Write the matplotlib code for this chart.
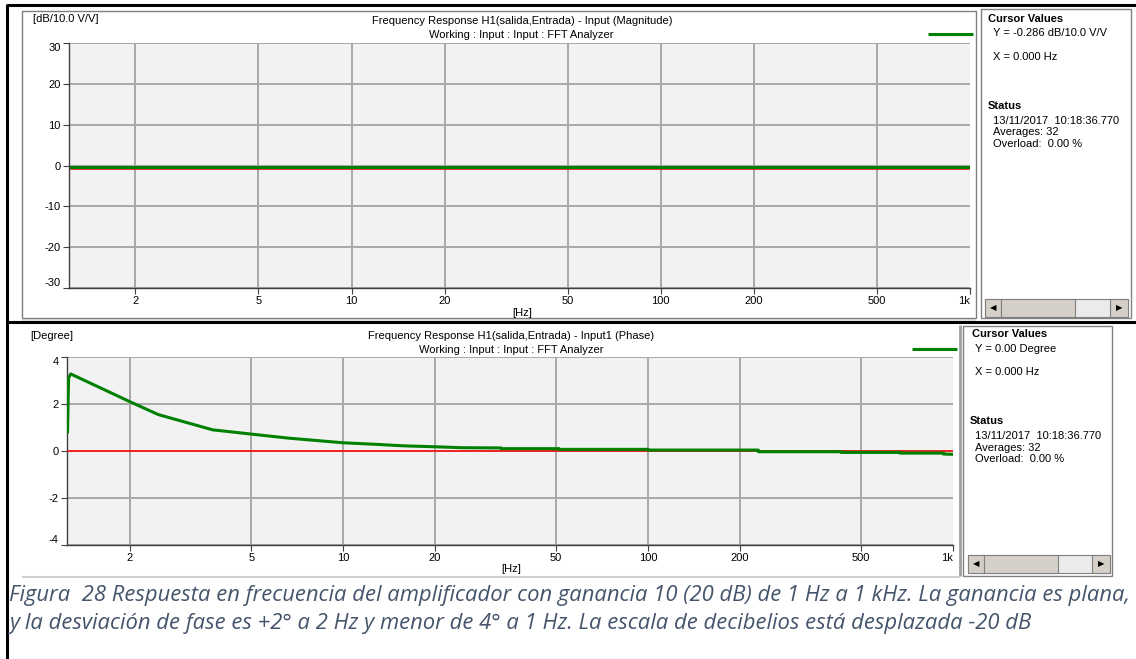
import matplotlib
matplotlib.use("Agg")
import matplotlib.pyplot as plt
from matplotlib.patches import Rectangle
from matplotlib.lines import Line2D

# ------------------------------------------------------------
# Data
# ------------------------------------------------------------

freq_ticks = [2, 5, 10, 20, 50, 100, 200, 500, 1000]
freq_labels = ["2", "5", "10", "20", "50", "100", "200", "500", "1k"]

mag_ticks = [-30, -20, -10, 0, 10, 20, 30]
phase_ticks = [-4, -2, 0, 2, 4]

# magnitude trace (dB/10.0 V/V), flat
mag_freq = [1.22, 2, 5, 10, 20, 50, 100, 200, 500, 1000]
mag_db = [-0.29, -0.29, -0.29, -0.29, -0.29, -0.29, -0.29, -0.29, -0.29, -0.29]
mag_ref_freq = [1.22, 1000]
mag_ref_db = [-0.75, -0.75]

# phase trace (degree)
phase_freq = [1.25, 1.26, 1.28, 2.0, 2.48, 3.74, 5.0, 6.6, 10.0, 13.0, 15.8,
              20.0, 24.5, 33, 33, 51, 51, 100, 100, 230, 230, 430, 430,
              670, 670, 930, 930, 1000]
phase_deg = [0.82, 3.1, 3.28, 2.1, 1.55, 0.9, 0.72, 0.55, 0.35, 0.28, 0.22,
             0.18, 0.14, 0.13, 0.10, 0.10, 0.07, 0.07, 0.04, 0.04, -0.03, -0.03,
             -0.06, -0.06, -0.09, -0.09, -0.13, -0.14]

ref_freq = [1.24, 1000]
ref_deg = [0.0, 0.0]

caption_1 = ("Figura  28 Respuesta en frecuencia del amplificador con ganancia 10 "
             "(20 dB) de 1 Hz a 1 kHz. La ganancia es plana,")
caption_2 = ("y la desviación de fase es +2° a 2 Hz y menor de 4° a 1 Hz. "
             "La escala de decibelios está desplazada -20 dB")

# ------------------------------------------------------------
# Figure helpers (pixel coordinates, origin top-left)
# ------------------------------------------------------------

W, H = 1136, 659
fig = plt.figure(figsize=(W / 100, H / 100), dpi=100)
plt.rcParams["font.family"] = ["Liberation Sans", "DejaVu Sans"]

GREEN = "#008000"
GRID = "#a8a8a8"


def fx(x):
    return x / W


def fy(y):
    return 1 - y / H


def hline(x0, x1, y, color, lw):
    fig.add_artist(Line2D([fx(x0), fx(x1)], [fy(y), fy(y)],
                          transform=fig.transFigure, color=color, lw=lw,
                          solid_capstyle="butt", zorder=2))


def vline(x, y0, y1, color, lw):
    fig.add_artist(Line2D([fx(x), fx(x)], [fy(y0), fy(y1)],
                          transform=fig.transFigure, color=color, lw=lw,
                          solid_capstyle="butt", zorder=2))


def box(x0, y0, x1, y1, fc="none", ec="none", lw=0.8, z=-1):
    fig.add_artist(Rectangle((fx(x0), fy(y1)), fx(x1) - fx(x0), fy(y0) - fy(y1),
                             transform=fig.transFigure, fc=fc, ec=ec, lw=lw,
                             zorder=z))


def text(x, y, s, **kw):
    kw.setdefault("fontsize", 8)
    kw.setdefault("va", "center")
    return fig.text(fx(x), fy(y), s, **kw)


def scrollbar(x0, x1, y0, y1):
    box(x0, y0, x1, y1, fc="#ebebeb", ec="#808080", z=1)
    box(x0, y0, x0 + 16, y1, fc="#d4d0c8", ec="#808080", z=1)
    box(x0 + 16, y0, x0 + 90, y1, fc="#d4d0c8", ec="#808080", z=1)
    box(x1 - 18, y0, x1, y1, fc="#d4d0c8", ec="#808080", z=1)
    mid = (y0 + y1) / 2
    text(x0 + 8, mid, "◀", fontsize=6, ha="center", family="DejaVu Sans")
    text(x1 - 9, mid, "▶", fontsize=6, ha="center", family="DejaVu Sans")


def style_axes(ax, yticks, xmin):
    ax.set_xscale("log")
    ax.set_xlim(xmin, 1000)
    ax.set_ylim(yticks[0], yticks[-1])
    ax.set_facecolor("#f2f2f2")
    ax.set_xticks(freq_ticks, freq_labels)
    ax.minorticks_off()
    ax.set_yticks(yticks, [str(v) for v in yticks])
    ax.grid(True, color=GRID, lw=1.4)
    ax.get_xgridlines()[-1].set_visible(False)
    for s in ["top", "right"]:
        ax.spines[s].set_visible(False)
    for s in ["left", "bottom"]:
        ax.spines[s].set_color("#404040")
        ax.spines[s].set_linewidth(1.0)
    ax.tick_params(direction="out", length=4, width=0.8, color="#404040",
                   labelsize=8, pad=2)
    ylabels = ax.get_yticklabels()
    ylabels[0].set_va("bottom")
    ylabels[-1].set_va("top")
    ax.get_xticklabels()[-1].set_ha("right")
    ax.set_axisbelow(True)


# ------------------------------------------------------------
# Frames
# ------------------------------------------------------------

box(7, 5, 1136, 322, fc="white", z=-2)
box(22, 318, 976, 322, fc="#e6e6e6")
box(22, 11, 976, 318, ec="#808080", lw=1.0)
box(981, 9, 1131, 318, fc="white", ec="#808080", lw=1.0)
box(963, 326, 1112, 576, fc="white", ec="#808080", lw=1.0)
vline(960, 325, 576, "#a0a0a0", 2.0)
hline(22, 960, 577, "#d0d0d0", 1.5)

hline(7, 1136, 5, "black", 2.2)
hline(7, 1136, 322, "black", 2.2)
vline(7, 4, 659, "black", 2.2)

# ------------------------------------------------------------
# Magnitude panel
# ------------------------------------------------------------

ax_mag = fig.add_axes([fx(69), fy(288), fx(970) - fx(69), fy(43) - fy(288)])
style_axes(ax_mag, mag_ticks, 1.22)
ax_mag.plot(mag_ref_freq, mag_ref_db, color="#ff0000", lw=1.1)
ax_mag.plot(mag_freq, mag_db, color=GREEN, lw=2.2)

text(33, 19, "[dB/10.0 V/V]")
text(522, 21, "Frequency Response H1(salida,Entrada) - Input (Magnitude)", ha="center")
text(521, 35, "Working : Input : Input : FFT Analyzer", ha="center")
hline(928, 973, 34, GREEN, 2.2)
text(522, 313, "[Hz]", ha="center")

text(988, 19, "Cursor Values", fontweight="bold")
text(993, 33, "Y = -0.286 dB/10.0 V/V")
text(993, 57, "X = 0.000 Hz")
text(988, 106, "Status", fontweight="bold")
text(993, 121, "13/11/2017  10:18:36.770")
text(993, 132, "Averages: 32")
text(993, 144, "Overload:  0.00 %")
scrollbar(985, 1128, 299, 317)

# ------------------------------------------------------------
# Phase panel
# ------------------------------------------------------------

ax_ph = fig.add_axes([fx(67), fy(545), fx(953) - fx(67), fy(357) - fy(545)])
style_axes(ax_ph, phase_ticks, 1.245)
ax_ph.plot(ref_freq, ref_deg, color="#ff0000", lw=1.1, zorder=3)
ax_ph.plot(phase_freq, phase_deg, color=GREEN, lw=2.2, zorder=4)

text(30, 336, "[Degree]")
text(511, 336, "Frequency Response H1(salida,Entrada) - Input1 (Phase)", ha="center")
text(511, 350, "Working : Input : Input : FFT Analyzer", ha="center")
hline(912, 957, 349, GREEN, 2.2)
text(511, 569, "[Hz]", ha="center")

text(972, 334, "Cursor Values", fontweight="bold")
text(975, 349, "Y = 0.00 Degree")
text(975, 372, "X = 0.000 Hz")
text(970, 421, "Status", fontweight="bold")
text(975, 436, "13/11/2017  10:18:36.770")
text(975, 448, "Averages: 32")
text(975, 459, "Overload:  0.00 %")
scrollbar(968, 1110, 555, 573)

# ------------------------------------------------------------
# Caption
# ------------------------------------------------------------

cap_kw = dict(fontsize=14, style="italic", color="#44546A",
              family=["Open Sans", "DejaVu Sans"], ha="left")
t1 = text(9, 596, caption_1, **cap_kw)
t2 = text(9, 623, caption_2, **cap_kw)
fig.canvas.draw()
scale = 1121 / t1.get_window_extent().width
t1.set_fontsize(14 * scale)
t2.set_fontsize(14 * scale)

fig.savefig("out.png", dpi=100)
